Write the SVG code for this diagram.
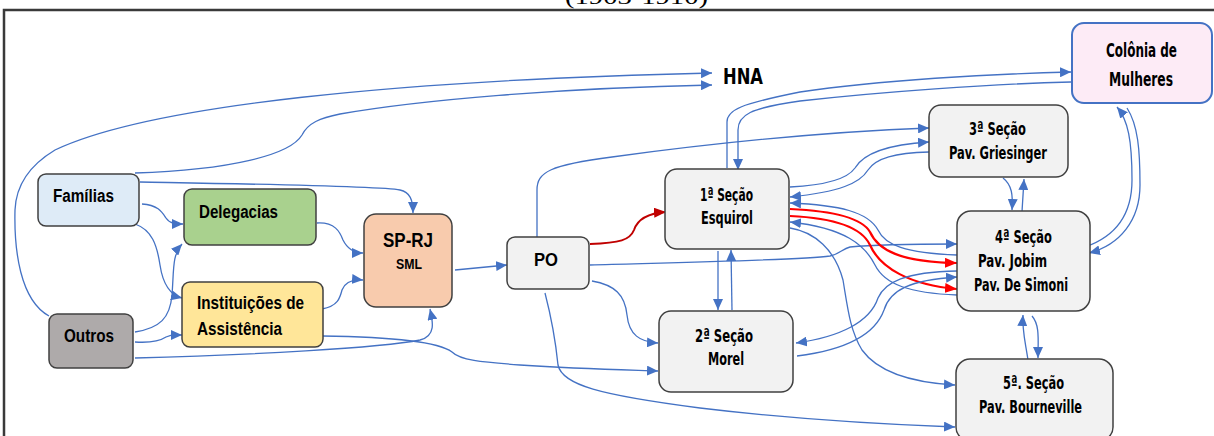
<svg xmlns="http://www.w3.org/2000/svg" width="1214" height="436" viewBox="0 0 1214 436">
<defs>
<style>
.box{stroke:#404040;stroke-width:1.5}
.sec{fill:#f2f2f2}
.c{fill:none;stroke:#4472c4;stroke-width:1.3}
.r{fill:none;stroke:#ff0000;stroke-width:2.2}
.t1{font-family:"Liberation Sans",Arial,sans-serif;font-weight:bold;fill:#000}
.t2{font-family:"DejaVu Sans Condensed","DejaVu Sans",sans-serif;font-weight:bold;font-stretch:condensed;fill:#000}
</style>
<marker id="ab" markerUnits="userSpaceOnUse" markerWidth="11" markerHeight="10" viewBox="0 0 11 10" refX="11" refY="5" orient="auto"><path d="M0,0 L11,5 L0,10 z" fill="#4472c4"/></marker>
<marker id="ar" markerUnits="userSpaceOnUse" markerWidth="12" markerHeight="10" viewBox="0 0 12 10" refX="12" refY="5" orient="auto"><path d="M0,0 L12,5 L0,10 z" fill="#ff0000"/></marker>
<marker id="ad" markerUnits="userSpaceOnUse" markerWidth="12" markerHeight="10" viewBox="0 0 12 10" refX="12" refY="5" orient="auto"><path d="M0,0 L12,5 L0,10 z" fill="#c00000"/></marker>
</defs>
<rect width="1214" height="436" fill="#fff"/>
<text x="565" y="4" font-family="'Liberation Serif',serif" font-size="22" textLength="143" lengthAdjust="spacingAndGlyphs">(1903-1910)</text>
<path d="M4,436 L4,10 L1214,10" fill="none" stroke="#3a3a3a" stroke-width="2.5"/>

<g id="connectors">
<path class="c" marker-end="url(#ab)" d="M49,316 C20,300 14,250 15,210 C16,185 30,165 55,150 C150,105 400,80 712,73"/>
<path class="c" marker-end="url(#ab)" d="M135,173 C230,170 290,155 302,135 C308,123 320,118 340,114 C420,100 560,88 712,85"/>
<path class="c" marker-end="url(#ab)" d="M140,182 C250,184 380,186 400,190 C410,192 413,200 413,213"/>
<path class="c" marker-end="url(#ab)" d="M142,204 C158,205 162,212 166,218 C170,224 176,224 183,224"/>
<path class="c" marker-end="url(#ab)" d="M135,224 C152,230 157,245 160,265 C163,285 170,295 182,298"/>
<path class="c" marker-end="url(#ab)" d="M135,332 C160,328 170,318 172,295 C174,270 172,255 182,244"/>
<path class="c" marker-end="url(#ab)" d="M135,342 C150,343 160,341 166,337 C172,334 176,335 182,335"/>
<path class="c" marker-end="url(#ab)" d="M135,358 C250,355 380,348 420,340 C436,336 433,322 430,309"/>
<path class="c" marker-end="url(#ab)" d="M317,223 C335,222 340,232 343,240 C348,250 355,253 363,253"/>
<path class="c" marker-end="url(#ab)" d="M322,309 C338,306 340,298 342,290 C345,282 352,279 363,280"/>
<path class="c" marker-end="url(#ab)" d="M322,336 C400,337 440,343 452,352 C460,360 480,362 520,365 C580,369 630,370 658,371"/>
<path class="c" marker-end="url(#ab)" d="M455,270 L507,265"/>
<path fill="none" stroke="#c00000" stroke-width="2" marker-end="url(#ad)" d="M590,244 C620,243 630,240 634,230 C638,218 650,213 666,212"/>
<path class="c" marker-end="url(#ab)" d="M537,237 L537,190 C537,172 550,165 612,157 C700,145 820,132 929,128"/>
<path class="c" marker-end="url(#ab)" d="M590,265 C700,262 800,260 830,256 C840,254 842,249 850,247 C880,244 920,244 957,244"/>
<path class="c" marker-end="url(#ab)" d="M592,281 C615,285 625,295 627,315 C629,335 640,342 658,343"/>
<path class="c" marker-end="url(#ab)" d="M545,293 C552,320 556,345 558,365 C562,385 600,395 700,408 C800,420 900,425 955,427"/>
<path class="c" marker-end="url(#ab)" d="M718,251 L718,310"/>
<path class="c" marker-end="url(#ab)" d="M732,310 L731,250"/>
<path class="c" marker-end="url(#ab)" d="M727,168 L727,122 C727,110 740,104 800,92 C880,80 990,74 1071,72"/>
<path class="c" marker-end="url(#ab)" d="M1071,82 C990,84 880,92 800,101 C750,108 738,115 738,130 L738,170"/>
<path class="c" marker-end="url(#ab)" d="M790,187 C830,185 848,178 855,168 C862,156 880,145 929,142"/>
<path class="c" marker-end="url(#ab)" d="M929,152 C895,153 876,158 868,170 C860,183 840,192 790,197"/>
<path class="c" marker-end="url(#ab)" d="M957,255 C905,253 885,245 878,230 C868,212 840,205 790,203"/>
<path class="r" marker-end="url(#ar)" d="M790,209 C835,211 862,218 870,232 C878,250 900,262 957,263"/>
<path class="r" marker-end="url(#ar)" d="M790,216 C835,218 862,228 870,245 C880,268 910,285 957,289"/>
<path class="c" marker-end="url(#ab)" d="M957,295 C910,293 885,285 875,265 C865,245 845,228 790,222"/>
<path class="c" marker-end="url(#ab)" d="M790,228 C815,232 835,250 843,280 C848,310 850,330 862,350 C880,375 920,383 955,385"/>
<path class="c" marker-end="url(#ab)" d="M957,271 C905,272 885,282 878,298 C870,322 840,337 796,343"/>
<path class="c" marker-end="url(#ab)" d="M797,356 C845,350 875,335 884,310 C890,290 910,280 957,277"/>
<path class="c" marker-end="url(#ab)" d="M1003,178 C1012,185 1013,195 1012,210"/>
<path class="c" marker-end="url(#ab)" d="M1022,212 L1024,179"/>
<path class="c" marker-end="url(#ab)" d="M1085,247 C1120,235 1132,210 1132,180 C1132,140 1128,120 1117,107"/>
<path class="c" marker-end="url(#ab)" d="M1127,108 C1138,125 1140,150 1140,185 C1140,220 1120,245 1089,253"/>
<path class="c" marker-end="url(#ab)" d="M1028,360 C1025,340 1022,330 1023,315"/>
<path class="c" marker-end="url(#ab)" d="M1032,316 C1040,325 1038,340 1038,358"/>
</g>

<g id="familias"><rect class="box" x="38" y="174" width="101" height="52" rx="8" fill="#deebf7"/><text class="t1" x="53" y="202" font-size="18" textLength="61" lengthAdjust="spacingAndGlyphs">Famílias</text></g>
<g id="delegacias"><rect class="box" x="184" y="189" width="132" height="56" rx="8" fill="#a9d18e"/><text class="t1" x="199" y="218" font-size="18" textLength="79" lengthAdjust="spacingAndGlyphs">Delegacias</text></g>
<g id="instituicoes"><rect class="box" x="182" y="282" width="141" height="65" rx="8" fill="#ffe699"/><text class="t1" x="197" y="309" font-size="18" textLength="107" lengthAdjust="spacingAndGlyphs">Instituições de</text><text class="t1" x="197" y="335" font-size="18" textLength="85" lengthAdjust="spacingAndGlyphs">Assistência</text></g>
<g id="outros"><rect class="box" x="49" y="314" width="84" height="54" rx="8" fill="#aeaaaa"/><text class="t1" x="64" y="342" font-size="18" textLength="50" lengthAdjust="spacingAndGlyphs">Outros</text></g>
<g id="sprj"><rect class="box" x="364" y="214" width="88" height="93" rx="12" fill="#f8cbad"/><text class="t1" x="383" y="247" font-size="21" textLength="50" lengthAdjust="spacingAndGlyphs">SP-RJ</text><text class="t1" x="396" y="269" font-size="14" textLength="26" lengthAdjust="spacingAndGlyphs">SML</text></g>
<g id="po"><rect class="box sec" x="507" y="237" width="82" height="52" rx="8"/><text class="t1" x="534" y="266" font-size="18" textLength="24" lengthAdjust="spacingAndGlyphs">PO</text></g>
<g id="hna"><text class="t2" x="723" y="84" font-size="22" textLength="40" lengthAdjust="spacingAndGlyphs">HNA</text></g>
<g id="secao1"><rect class="box sec" x="665" y="169" width="124" height="80" rx="12"/><text class="t2" x="700" y="201" font-size="18" textLength="53" lengthAdjust="spacingAndGlyphs">1ª Seção</text><text class="t2" x="701" y="224" font-size="18" textLength="52" lengthAdjust="spacingAndGlyphs">Esquirol</text></g>
<g id="secao2"><rect class="box sec" x="659" y="311" width="134" height="81" rx="12"/><text class="t2" x="695" y="342" font-size="18" textLength="58" lengthAdjust="spacingAndGlyphs">2ª Seção</text><text class="t2" x="708" y="365" font-size="18" textLength="36" lengthAdjust="spacingAndGlyphs">Morel</text></g>
<g id="secao3"><rect class="box sec" x="929" y="105" width="139" height="72" rx="12"/><text class="t2" x="969" y="135" font-size="18" textLength="57" lengthAdjust="spacingAndGlyphs">3ª Seção</text><text class="t2" x="949" y="159" font-size="18" textLength="98" lengthAdjust="spacingAndGlyphs">Pav. Griesinger</text></g>
<g id="secao4"><rect class="box sec" x="957" y="211" width="133" height="100" rx="14"/><text class="t2" x="995" y="243" font-size="18" textLength="57" lengthAdjust="spacingAndGlyphs">4ª Seção</text><text class="t2" x="978" y="267" font-size="18" textLength="69" lengthAdjust="spacingAndGlyphs">Pav. Jobim</text><text class="t2" x="974" y="291" font-size="18" textLength="94" lengthAdjust="spacingAndGlyphs">Pav. De Simoni</text></g>
<g id="secao5"><rect class="box sec" x="956" y="359" width="157" height="82" rx="14"/><text class="t2" x="1003" y="389" font-size="18" textLength="61" lengthAdjust="spacingAndGlyphs">5ª. Seção</text><text class="t2" x="979" y="413" font-size="18" textLength="103" lengthAdjust="spacingAndGlyphs">Pav. Bourneville</text></g>
<g id="colonia"><rect x="1072" y="23" width="140" height="80" rx="12" fill="#fdebf6" stroke="#4472c4" stroke-width="2"/><text class="t2" x="1106" y="57" font-size="20" textLength="71" lengthAdjust="spacingAndGlyphs">Colônia de</text><text class="t2" x="1109" y="86" font-size="20" textLength="64" lengthAdjust="spacingAndGlyphs">Mulheres</text></g>
</svg>
